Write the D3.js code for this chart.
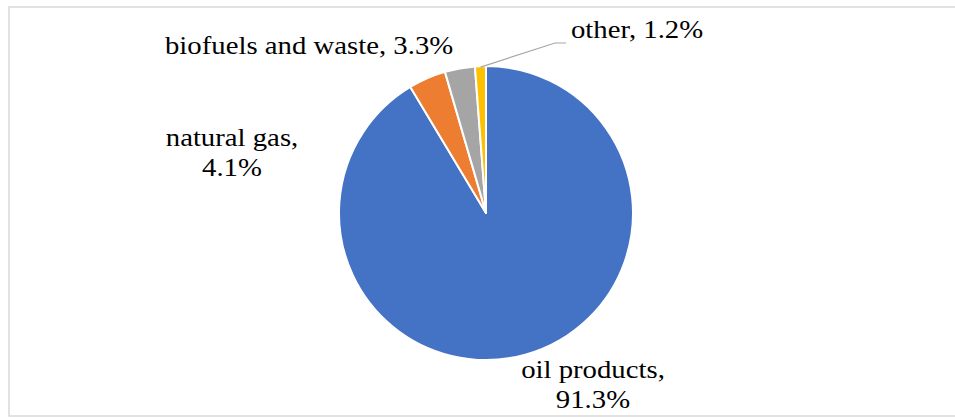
<!DOCTYPE html>
<html>
<head>
<meta charset="utf-8">
<script src="https://cdn.jsdelivr.net/npm/d3@7"></script>
<style>
  html, body { margin: 0; padding: 0; background: #fff; }
</style>
</head>
<body>
<div id="chart"></div>
<script>
const categories = ['oil products', 'natural gas', 'biofuels and waste', 'other'];
const shares = [91.3, 4.1, 3.3, 1.2];
const colors = ['#4472C4', '#ED7D31', '#A5A5A5', '#FFC000'];

const width = 955;
const height = 417;
const cx = 486;
const cy = 213;
const radius = 147;
const stretch = 1.15;
const labelFont = "'Liberation Serif', Tinos, 'Times New Roman', Times, serif";

const svg = d3.select('#chart').append('svg')
  .attr('width', width)
  .attr('height', height);

// chart area border
svg.append('rect')
  .attr('x', 9)
  .attr('y', 7)
  .attr('width', width)
  .attr('height', 409)
  .attr('fill', 'none')
  .attr('stroke', '#d9d9d9')
  .attr('stroke-width', 1.5);

const pie = d3.pie().sort(null).value(d => d.value);
const arc = d3.arc().innerRadius(0).outerRadius(radius);

const data = categories.map((name, i) => ({ name, value: shares[i], color: colors[i] }));
const arcs = pie(data);

const g = svg.append('g').attr('transform', `translate(${cx},${cy})`);

g.selectAll('path.slice')
  .data(arcs)
  .join('path')
  .attr('class', 'slice')
  .attr('d', arc)
  .attr('fill', d => d.data.color)
  .attr('stroke', '#fff')
  .attr('stroke-width', 2)
  .attr('stroke-linejoin', 'round');

// label placement (lines of text, anchor, position)
const labelSpecs = [
  { lines: ['oil products,', '91.3%'], x: 593, y: 378, anchor: 'middle' },
  { lines: ['natural gas,', '4.1%'], x: 232, y: 146, anchor: 'middle' },
  { lines: ['biofuels and waste, 3.3%'], x: 165, y: 54, anchor: 'start' },
  { lines: ['other, 1.2%'], x: 571, y: 38, anchor: 'start' }
];

labelSpecs.forEach(spec => {
  const text = svg.append('text')
    .attr('font-family', labelFont)
    .attr('font-size', 25)
    .attr('fill', '#000')
    .attr('text-anchor', spec.anchor)
    .attr('transform', `translate(${spec.x},${spec.y}) scale(${stretch},1)`);
  spec.lines.forEach((line, j) => {
    text.append('tspan')
      .attr('x', 0)
      .attr('y', j * 30)
      .text(line);
  });
});

// leader line for "other"
const otherArc = arcs[3];
const mid = (otherArc.startAngle + otherArc.endAngle) / 2;
const p0 = [cx + Math.sin(mid) * (radius - 1), cy - Math.cos(mid) * (radius - 1)];
svg.append('polyline')
  .attr('points', [p0, [555, 43], [566, 43]].map(p => p.join(',')).join(' '))
  .attr('fill', 'none')
  .attr('stroke', '#a6a6a6')
  .attr('stroke-width', 1.2);
</script>
</body>
</html>
